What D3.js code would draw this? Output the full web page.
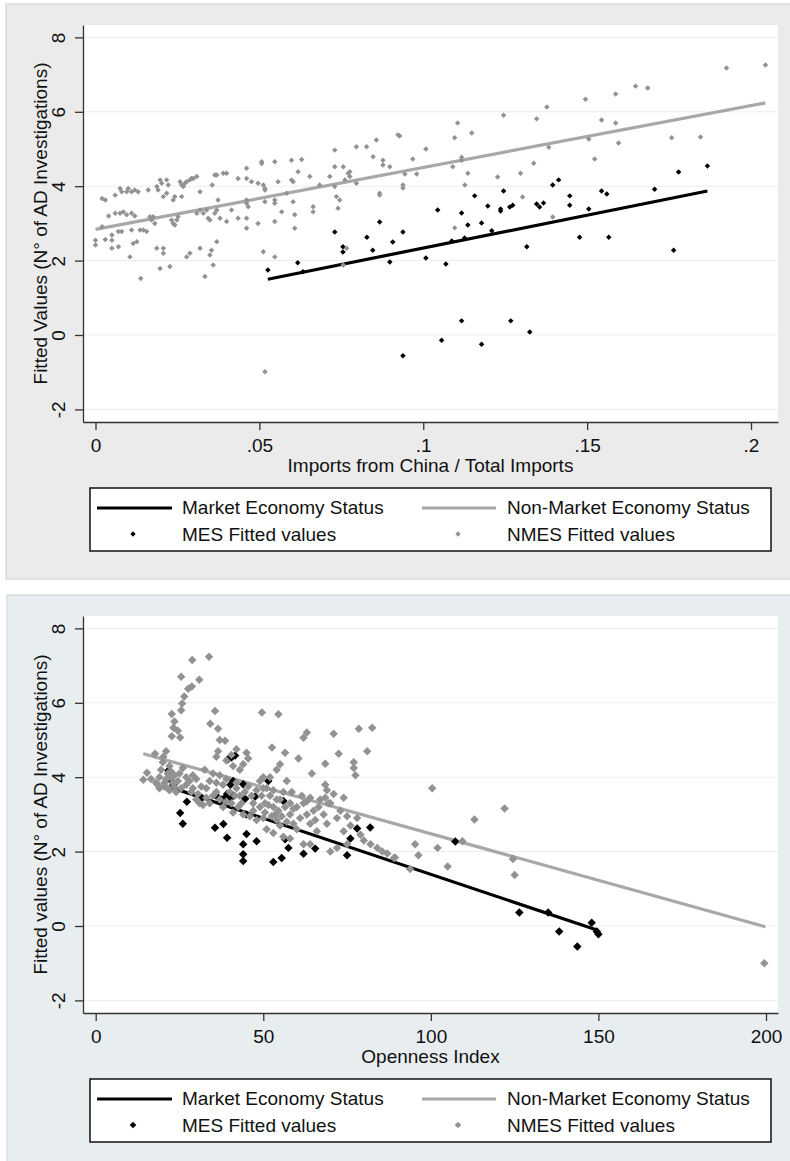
<!DOCTYPE html>
<html><head><meta charset="utf-8">
<script src="https://cdn.jsdelivr.net/npm/d3@7"></script>
<style>
body{margin:0;background:#fff;}
text{font-family:Arial,"Liberation Sans",sans-serif;fill:#111;}
</style>
</head><body><div id="chart"></div>
<script>
// ---------- DATA ----------
const yTicks = [-2, 0, 2, 4, 6, 8];
const yTickLabels = ["-2", "0", "2", "4", "6", "8"];

const xTicks1 = [0, 0.05, 0.1, 0.15, 0.2];
const xTickLabels1 = ["0", ".05", ".1", ".15", ".2"];
const xTicks2 = [0, 50, 100, 150, 200];
const xTickLabels2 = ["0", "50", "100", "150", "200"];

const legendLabels = ["Market Economy Status", "Non-Market Economy Status", "MES Fitted values", "NMES Fitted values"];

// Panel 1: Imports from China / Total Imports
const mes1 = [[0.0526,1.75],[0.0617,1.94],[0.0633,1.70],[0.0730,2.77],[0.0755,2.37],[0.0755,2.23],[0.0828,2.63],[0.0846,2.28],[0.0867,3.04],[0.0898,1.96],[0.0907,2.50],
[0.0938,2.77],[0.1008,2.07],[0.1044,3.36],[0.1069,1.91],[0.1087,2.53],[0.1117,3.28],[0.1126,2.61],[0.1136,2.96],[0.1157,3.74],[0.1178,3.01],[0.1197,3.47],[0.1209,2.80],
[0.1236,3.39],[0.1236,3.33],[0.1245,3.87],[0.1264,3.44],[0.1273,3.49],[0.1316,2.37],[0.1346,3.52],[0.1355,3.44],[0.1367,3.55],[0.1395,4.03],[0.1413,4.17],[0.1447,3.74],
[0.1447,3.49],[0.1477,2.63],[0.1505,3.39],[0.1544,3.87],[0.1560,3.79],[0.1566,2.63],[0.1706,3.92],[0.1764,2.28],[0.1779,4.38],[0.1867,4.54],
[0.0938,-0.56],[0.1056,-0.14],[0.1117,0.38],[0.1178,-0.25],[0.1267,0.38],[0.1325,0.08]];

const nmes1 = [[0.000,2.55],[0.000,2.42],[0.002,3.67],[0.003,3.63],[0.002,2.91],[0.003,2.57],[0.005,2.69],[0.005,2.55],[0.005,2.33],[0.006,3.76],[0.004,3.20],[0.006,3.27],
[0.0075,3.27],[0.0085,3.31],[0.0095,3.23],[0.011,3.27],[0.012,3.20],[0.007,2.78],[0.008,2.78],[0.007,2.37],[0.0075,3.94],[0.008,3.85],[0.0095,3.85],[0.010,3.94],[0.011,3.85],
[0.012,3.90],[0.013,3.85],[0.0105,2.10],[0.011,2.82],[0.0115,2.46],[0.0126,2.51],[0.0136,2.82],[0.0146,2.82],[0.0156,2.78],[0.0138,1.52],[0.0161,3.90],[0.0166,3.18],[0.0171,3.09],
[0.0176,3.18],[0.0181,3.00],[0.0187,3.99],[0.0191,3.90],[0.0197,4.17],[0.0202,4.08],[0.0217,4.17],[0.0222,4.03],[0.0187,2.33],[0.0207,2.33],[0.0207,2.20],[0.0197,1.79],
[0.0207,3.72],[0.0217,3.81],[0.0227,1.84],[0.0232,3.09],[0.0237,3.00],[0.0242,2.96],[0.0248,3.09],[0.0252,3.18],[0.0237,3.63],[0.0242,3.72],[0.0258,4.12],[0.0263,4.03],
[0.0268,3.99],[0.0273,4.08],[0.0278,4.12],[0.0288,4.17],[0.0293,4.21],[0.0298,4.21],[0.0309,4.26],[0.0263,3.72],[0.0278,2.10],[0.0288,2.20],[0.0309,3.27],[0.0319,3.36],
[0.0329,3.27],[0.0339,3.36],[0.0319,2.33],[0.0319,3.85],[0.0334,1.57],[0.0344,3.14],[0.0349,3.09],[0.0349,2.15],[0.0354,2.28],[0.0356,4.03],[0.0359,1.88],[0.0364,4.30],
[0.0370,4.30],[0.0364,3.27],[0.0370,3.36],[0.0370,2.51],[0.0374,3.63],[0.0380,3.14],[0.0390,4.35],[0.0400,4.35],[0.0400,3.05],[0.0415,3.36],[0.0435,4.21],[0.0435,3.14],
[0.0461,4.48],[0.0461,4.21],[0.0461,3.63],[0.0461,3.54],[0.0466,3.45],[0.0461,3.14],[0.0461,2.87],[0.0476,4.12],[0.0496,4.08],[0.0496,3.00],[0.0507,4.66],[0.0507,4.61],
[0.0512,4.03],[0.0517,3.94],[0.0517,3.90],[0.0517,3.58],[0.0512,2.24],[0.0547,4.66],[0.0547,3.63],[0.0547,3.54],[0.0547,3.05],[0.0547,2.10],[0.0557,4.12],[0.0568,3.31],
[0.0583,3.81],[0.0598,4.70],[0.0598,4.17],[0.0603,4.12],[0.0603,3.58],[0.0608,2.87],[0.0608,3.23],[0.0618,4.39],[0.0629,4.72],[0.0654,4.26],[0.0664,3.45],[0.0664,3.31],
[0.0684,4.03],[0.0715,4.26],[0.0730,4.97],[0.0730,4.52],[0.0730,3.99],[0.0735,3.72],[0.0740,3.41],[0.0745,3.63],[0.0756,4.52],[0.0761,4.17],[0.0771,4.35],[0.0776,4.39],
[0.0776,4.26],[0.0756,1.88],[0.0766,2.33],[0.0796,4.08],[0.0796,5.06],[0.0827,5.06],[0.0847,4.79],[0.0857,5.24],[0.0867,3.81],[0.0867,3.76],[0.0877,4.70],[0.0877,4.57],
[0.0898,4.52],[0.0923,5.38],[0.0517,-0.99],
[0.0928,5.35],[0.0938,4.03],[0.0938,3.95],[0.0944,4.33],[0.0968,4.73],[0.0980,4.33],[0.1008,5.00],[0.1090,4.52],[0.1096,5.30],[0.1105,5.70],[0.1117,4.78],[0.1117,4.70],
[0.1127,4.03],[0.1136,4.35],[0.1148,5.43],[0.1096,2.88],[0.1227,4.25],[0.1245,5.91],[0.1297,4.35],[0.1303,3.71],[0.1337,4.62],[0.1346,5.81],[0.1377,6.13],[0.1383,5.05],
[0.1395,3.17],[0.1495,6.34],[0.1505,5.27],[0.1523,4.73],[0.1544,5.78],[0.1587,6.48],[0.1587,5.70],[0.1596,5.16],[0.1648,6.69],[0.1685,6.64],[0.1758,5.30],[0.1846,5.32],
[0.1925,7.18],[0.2044,7.26]];

const mesFit1X = [0.0526, 0.1867];
const mesFit1Y = [1.50, 3.87];
const nmesFit1X = [0.0, 0.2044];
const nmesFit1Y = [2.84, 6.24];

// Panel 2: Openness Index
const mes2 = [[21.7,4.18],[22.8,3.88],[23.2,3.80],[25.2,3.04],[26.0,2.75],[27.2,3.34],[31.7,3.45],[35.6,2.64],[36.6,3.45],[37.6,3.40],[38.6,3.45],[39.2,3.55],[40.0,3.45],
[41.0,3.50],[39.2,2.37],[38.1,2.74],[39.5,4.48],[40.5,4.53],[41.6,4.58],[40.2,3.80],[41.0,3.90],[44.0,3.81],[44.6,3.42],[45.0,3.00],[45.0,2.47],[44.0,2.20],[44.0,1.93],
[44.0,1.75],[48.0,2.28],[47.6,3.48],[51.5,3.90],[53.0,1.72],[55.5,1.83],[56.0,3.36],[56.5,2.33],[57.5,2.10],[62.0,1.94],[65.5,2.08],[75.0,1.90],[76.0,2.35],[78.0,2.62],
[81.9,2.65],[107.3,2.27],[126.4,0.36],[135.0,0.36],[138.3,-0.15],[143.7,-0.55],[148.0,0.09],[150.0,-0.22],[149.5,-0.15]];

const nmes2 = [[14.2,3.93],[15.3,4.12],[17.7,4.63],[16.5,3.95],[18.0,3.85],[19.0,4.00],[19.5,4.20],[20.0,4.40],[20.5,3.75],[21.0,3.95],[21.5,4.10],[20.2,4.55],[21.0,4.70],
[22.0,4.30],[22.5,4.00],[23.0,3.85],[22.0,3.65],[23.5,3.75],[24.5,3.90],[25.0,4.10],[19.0,3.70],[18.5,3.80],
[22.7,5.10],[23.2,5.33],[22.7,5.70],[23.5,5.50],[25.2,5.07],[24.5,5.25],[25.5,5.80],[25.8,5.98],[25.5,6.70],[26.4,6.17],[27.6,6.38],[28.7,6.44],[30.9,6.62],[28.8,7.15],[33.8,7.24],
[34.2,5.44],[35.6,5.78],[36.5,5.30],[37.0,5.00],[38.6,4.98],[36.5,4.70],[36.0,4.55],[40.5,4.60],[42.0,4.75],[45.0,4.66],[45.5,4.50],[39.0,4.45],[41.0,4.30],[43.0,4.20],[44.0,4.35],
[49.6,5.74],[54.5,5.69],[52.6,4.80],[56.5,4.66],[62.0,5.06],[63.0,5.20],[60.5,4.50],[64.5,4.10],[68.5,4.36],[71.0,5.17],[72.5,4.63],[68.5,3.80],[69.0,3.65],[68.5,3.45],
[69.5,3.30],[77.0,4.40],[77.0,4.25],[77.5,4.05],[78.5,5.30],[81.0,4.70],[82.5,5.33],
[27.0,3.80],[28.5,3.60],[30.0,3.40],[31.0,3.30],[32.0,3.25],[33.0,3.70],[34.0,3.90],[35.0,4.10],[30.0,3.95],[29.0,4.05],[32.5,4.20],[36.0,3.60],[37.0,3.40],[38.0,3.20],
[39.0,3.35],[40.0,3.60],[42.0,3.70],[43.0,3.50],[42.5,3.20],[41.0,3.05],[44.0,3.00],[46.0,2.95],[47.0,3.30],[48.0,3.65],[49.0,3.90],[50.0,4.00],[51.0,3.70],[52.0,3.50],
[53.0,3.20],[53.5,3.00],[54.0,2.85],[55.0,2.70],[55.0,3.40],[56.0,3.60],[57.0,3.90],[58.0,3.30],[58.0,3.00],[59.0,2.75],[60.0,2.60],[60.0,3.20],[61.5,3.50],[63.0,3.35],
[63.0,3.00],[64.0,2.75],[65.0,3.10],[66.0,2.55],[67.0,3.40],[68.0,3.00],[70.0,3.30],[71.0,3.55],[72.0,2.90],[74.0,2.55],[76.0,2.70],[78.0,2.90],[79.0,2.45],[80.0,2.30],
[82.0,2.20],[84.0,2.10],[85.5,2.00],[87.0,1.95],[89.0,1.83],[89.3,1.84],
[52.0,4.00],[54.0,4.20],[55.0,4.35],[50.5,3.30],[50.0,2.90],[51.0,2.60],[53.0,2.50],[56.0,2.40],[58.0,2.35],[62.0,2.20],[64.0,2.20],[70.0,2.00],[72.0,2.10],[75.0,2.20],
[26.0,4.25],[27.0,4.00],[28.0,3.90],[29.0,3.70],[30.5,3.55],[31.5,3.75],[33.0,3.45],[34.0,3.30],[35.0,3.50],[36.0,3.85],[37.0,4.05],[38.0,3.80],[39.0,3.95],[40.5,3.30],
[41.5,3.50],[42.0,3.85],[43.5,3.30],[44.5,3.60],[45.5,3.75],[46.5,3.50],[47.0,3.10],[48.0,2.85],[49.0,3.20],[49.5,3.50],[50.0,3.70],[50.5,3.05],[51.5,3.25],[52.5,2.95],
[53.0,3.65],[54.0,3.40],[54.5,3.10],[55.5,2.95],[56.5,3.20],[57.0,2.80],[58.5,3.60],[59.0,3.15],[61.0,2.90],[62.0,3.30],[64.0,3.45],[65.5,2.85],[66.5,3.20],[69.0,2.75],
[73.0,3.10],[75.0,2.95],[74.0,3.45],[20.5,3.85],[21.5,3.70],[22.5,4.15],[23.5,4.05],[24.0,3.60],[25.5,3.70],
[93.8,1.53],[95.3,2.20],[96.3,1.90],[100.4,3.70],[102.0,2.10],[105.0,1.60],[109.4,2.28],[113.0,2.86],[122.0,3.16],[124.5,1.80],[125.0,1.37],[199.5,-1.00]];

const mesFit2X = [22, 150];
const mesFit2Y = [3.74, -0.12];
const nmesFit2X = [14.2, 199.8];
const nmesFit2Y = [4.63, -0.02];

// ---------- DRAWING ----------
const W = 790, H = 1161;
const svg = d3.select("#chart").append("svg").attr("width", W).attr("height", H);

const diamond = {
  draw(ctx, size) {
    const r = Math.sqrt(size / 2);
    ctx.moveTo(0, -r); ctx.lineTo(r, 0); ctx.lineTo(0, r); ctx.lineTo(-r, 0); ctx.closePath();
  }
};

const BLACK = "#000", GRAYLINE = "#a8a8a8", GRAYPT = "#929292";

function panel(cfg) {
  const g = svg.append("g").attr("transform", `translate(0,${cfg.oy})`);
  g.append("rect").attr("x", cfg.bgx).attr("y", 4).attr("width", W - cfg.bgx + 2).attr("height", cfg.bgh)
    .attr("fill", cfg.bg).attr("stroke", cfg.bgStroke).attr("stroke-width", 1.2);
  const L = 83, R = 778, T = 25, B = 422;
  g.append("rect").attr("x", L).attr("y", T).attr("width", R - L).attr("height", B - T).attr("fill", "#fff");

  const x = d3.scaleLinear().domain(cfg.xDomain).range([L, R]);
  const y = d3.scaleLinear().domain([(335 - B) / 37.2, (335 - T) / 37.2]).range([B, T]);

  g.append("g").selectAll("line").data(yTicks).join("line")
    .attr("x1", L).attr("x2", R).attr("y1", d => y(d)).attr("y2", d => y(d))
    .attr("stroke", "#e9eef2").attr("stroke-width", 1);

  const ya = g.append("g").attr("transform", `translate(${L},0)`)
    .call(d3.axisLeft(y).tickValues(yTicks).tickFormat((d, i) => yTickLabels[i]).tickSize(8).tickSizeOuter(0));
  ya.select(".domain").attr("stroke", "#333").attr("stroke-width", 1.3);
  ya.selectAll(".tick line").attr("stroke", "#333").attr("stroke-width", 1.3);
  ya.selectAll(".tick text").attr("x", 0).attr("y", -18).attr("dy", 0).attr("text-anchor", "middle")
    .attr("transform", "rotate(-90)").style("font-size", "19px").style("font-family", "Arial, 'Liberation Sans', sans-serif").attr("fill", "#111");

  const xa = g.append("g").attr("transform", `translate(0,${B})`)
    .call(d3.axisBottom(x).tickValues(cfg.xTicks).tickFormat((d, i) => cfg.xLabels[i]).tickSize(8).tickSizeOuter(0).tickPadding(9));
  xa.select(".domain").attr("stroke", "#333").attr("stroke-width", 1.3);
  xa.selectAll(".tick line").attr("stroke", "#333").attr("stroke-width", 1.3);
  xa.selectAll(".tick text").style("font-size", "19px").style("font-family", "Arial, 'Liberation Sans', sans-serif").attr("fill", "#111");

  g.append("text").attr("x", (L + R) / 2).attr("y", 472).attr("text-anchor", "middle").style("font-size", "19px").text(cfg.xTitle);
  g.append("text").attr("transform", `translate(47,${(T + B) / 2}) rotate(-90)`).attr("text-anchor", "middle").style("font-size", "19px").text(cfg.yTitle);

  const plot = g.append("g");
  const line = d3.line().x(d => x(d[0])).y(d => y(d[1]));
  plot.append("path").datum(cfg.mesFitX.map((v, i) => [v, cfg.mesFitY[i]])).attr("d", line)
    .attr("stroke", BLACK).attr("stroke-width", 3.2).attr("fill", "none");
  plot.append("path").datum(cfg.nmesFitX.map((v, i) => [v, cfg.nmesFitY[i]])).attr("d", line)
    .attr("stroke", GRAYLINE).attr("stroke-width", 3.2).attr("fill", "none");
  const sym = d3.symbol().type(diamond).size(cfg.msize);
  plot.append("g").selectAll("path").data(cfg.mes).join("path")
    .attr("transform", d => `translate(${x(d[0])},${y(d[1])})`).attr("d", sym).attr("fill", BLACK);
  plot.append("g").selectAll("path").data(cfg.nmes).join("path")
    .attr("transform", d => `translate(${x(d[0])},${y(d[1])})`).attr("d", sym).attr("fill", GRAYPT);

  const lg = g.append("g");
  lg.append("rect").attr("x", 90).attr("y", 488).attr("width", 681).attr("height", 63)
    .attr("fill", "#fff").attr("stroke", "#111").attr("stroke-width", 1.5);
  lg.append("line").attr("x1", 97).attr("x2", 172).attr("y1", 508).attr("y2", 508).attr("stroke", BLACK).attr("stroke-width", 3.2);
  lg.append("line").attr("x1", 422).attr("x2", 496).attr("y1", 508).attr("y2", 508).attr("stroke", GRAYLINE).attr("stroke-width", 3.2);
  const lsym = d3.symbol().type(diamond).size(cfg.lmsize);
  lg.append("path").attr("transform", "translate(133,534)").attr("d", lsym).attr("fill", BLACK);
  lg.append("path").attr("transform", "translate(458,534)").attr("d", lsym).attr("fill", GRAYPT);
  const lt = [[182, 514, 0], [507, 514, 1], [182, 541, 2], [507, 541, 3]];
  lg.selectAll("text.lt").data(lt).join("text").attr("class", "lt")
    .attr("x", d => d[0]).attr("y", d => d[1]).style("font-size", "19px").text(d => legendLabels[d[2]]);
}

panel({
  oy: 0, bg: "#ebebeb", bgStroke: "#d5d5d5", bgx: 6, bgh: 575,
  xDomain: [(83 - 95.5) / 3277.5, (778 - 95.5) / 3277.5],
  xTicks: xTicks1, xLabels: xTickLabels1,
  xTitle: "Imports from China / Total Imports",
  yTitle: "Fitted Values (N° of AD Investigations)",
  mes: mes1, nmes: nmes1, mesFitX: mesFit1X, mesFitY: mesFit1Y, nmesFitX: nmesFit1X, nmesFitY: nmesFit1Y,
  msize: 15, lmsize: 14
});
panel({
  oy: 591, bg: "#e8eef0", bgStroke: "#d3dadd", bgx: 7, bgh: 580,
  xDomain: [(83 - 95.7) / 3.3515, (778 - 95.7) / 3.3515],
  xTicks: xTicks2, xLabels: xTickLabels2,
  xTitle: "Openness Index",
  yTitle: "Fitted values (N° of AD Investigations)",
  mes: mes2, nmes: nmes2, mesFitX: mesFit2X, mesFitY: mesFit2Y, nmesFitX: nmesFit2X, nmesFitY: nmesFit2Y,
  msize: 36, lmsize: 22
});
</script>
</body></html>
